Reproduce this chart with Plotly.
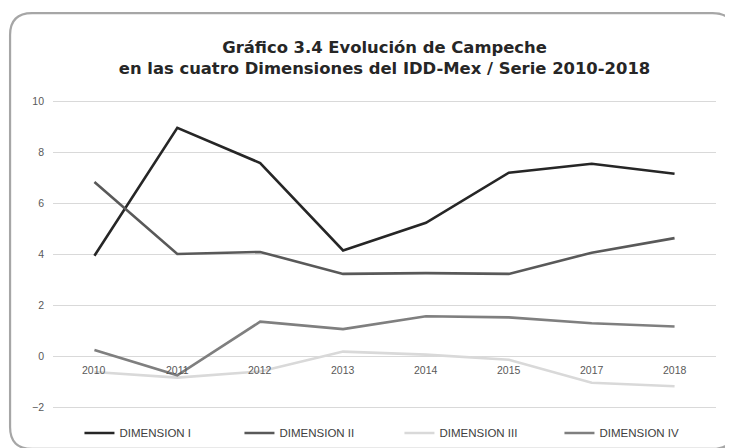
import plotly.graph_objects as go

years = ["2010", "2011", "2012", "2013", "2014", "2015", "2017", "2018"]
dim_1 = [3.95, 8.96, 7.58, 4.16, 5.24, 7.2, 7.55, 7.16]
dim_2 = [6.84, 4.02, 4.1, 3.24, 3.27, 3.24, 4.07, 4.64]
dim_3 = [-0.6, -0.82, -0.58, 0.2, 0.08, -0.12, -1.02, -1.16]
dim_4 = [0.26, -0.73, 1.37, 1.08, 1.58, 1.54, 1.31, 1.18]
names = ["DIMENSION I", "DIMENSION II", "DIMENSION III", "DIMENSION IV"]
colors = ["#262626", "#595959", "#d9d9d9", "#7f7f7f"]

# page body has an 8px margin, so the figure starts at (8, 8) in the window
OFF = 8
W, H = 733 - OFF, 448 - OFF
L, R, T, B = 52.5 - OFF, 16.5, 90.5 - OFF, 30
pw, ph = W - L - R, H - T - B

def px(x):
	return (x - OFF - L) / pw

def py(y):
	return (H - B - (y - OFF)) / ph

fig = go.Figure()
for name, vals, col in zip(names, [dim_1, dim_2, dim_3, dim_4], colors):
	fig.add_trace(go.Scatter(x=years, y=vals, name=name, mode="lines",
	                         line=dict(color=col, width=2.6)))

# year labels sit under the zero line, like the original
# (category index, since "2010" would be read as an index)
for i, yr in enumerate(years):
	fig.add_annotation(x=i, y=0, text=yr, showarrow=False, yanchor="top",
	                   yshift=-5, font=dict(size=10.5, color="#595959"))

# rounded frame around the whole chart
x0, y0, x1, y1, r = px(9.5), py(12.5), px(735), py(449), 22
rx, ry = r / pw, r / ph
frame = (f"M {x0+rx},{y0} L {x1-rx},{y0} Q {x1},{y0} {x1},{y0-ry} "
         f"L {x1},{y1+ry} Q {x1},{y1} {x1-rx},{y1} "
         f"L {x0+rx},{y1} Q {x0},{y1} {x0},{y1+ry} "
         f"L {x0},{y0-ry} Q {x0},{y0} {x0+rx},{y0} Z")
fig.add_shape(type="path", path=frame, xref="paper", yref="paper",
              line=dict(color="#a6a6a6", width=2.2), layer="below")

fig.update_layout(
	width=W, height=H,
	margin=dict(l=L, r=R, t=T, b=B, autoexpand=False),
	paper_bgcolor="white", plot_bgcolor="white",
	font=dict(family="Liberation Sans Narrow, Liberation Sans, sans-serif", color="#595959"),
	title=dict(text="Gráfico 3.4 Evolución de Campeche<br>en las cuatro Dimensiones del IDD-Mex / Serie 2010-2018",
	           x=0.5, xref="paper", xanchor="center", y=1 - (53 - OFF) / H, yref="container",
	           yanchor="middle",
	           font=dict(family="DejaVu Sans", size=16.4, color="#262626", weight="bold")),
	xaxis=dict(type="category", showticklabels=False, showgrid=False, zeroline=False,
	           showline=False, range=[-0.5, 7.5]),
	yaxis=dict(range=[-2.4, 10.4], tickvals=[-2, 0, 2, 4, 6, 8, 10], showgrid=True,
	           gridcolor="#d9d9d9", gridwidth=1, zeroline=False, showline=False,
	           tickfont=dict(size=10.5, color="#595959"), ticklabelstandoff=8),
	legend=dict(orientation="h", x=px(79), xanchor="left", y=py(433), yanchor="middle",
	            entrywidth=115, entrywidthmode="pixels", itemwidth=30,
	            font=dict(size=11.5, color="#404040"), bgcolor="rgba(0,0,0,0)"),
	showlegend=True,
)

fig.write_html("out.html")
